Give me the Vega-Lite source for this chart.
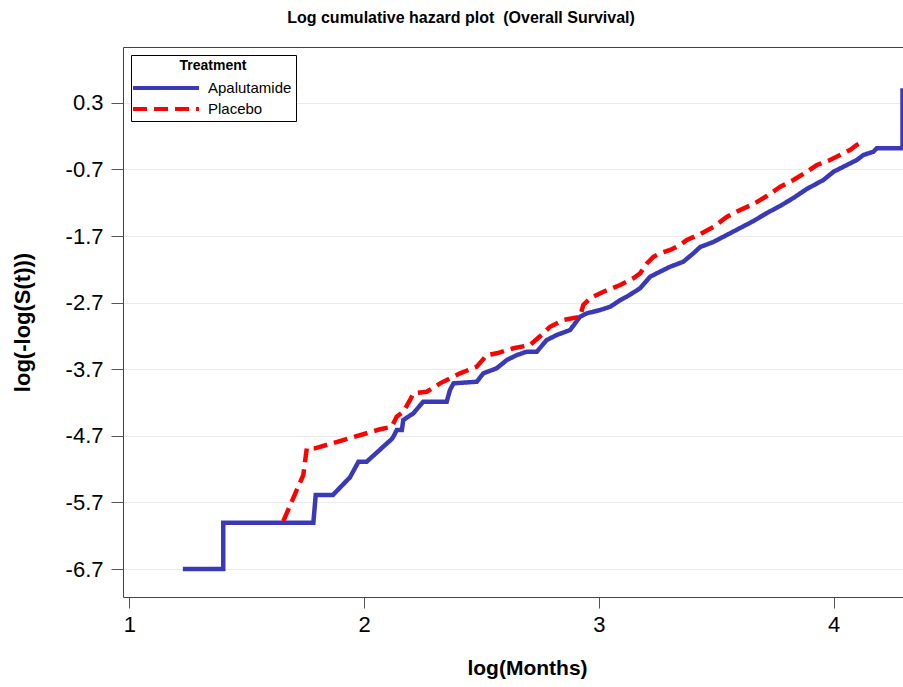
{
  "$schema": "https://vega.github.io/schema/vega-lite/v6.json",
  "autosize": {"type": "none"},
  "padding": {"left": 123, "top": 47, "right": 0, "bottom": 90},
  "width": 780,
  "height": 550,
  "background": "white",
  "title": {
    "text": "Log cumulative hazard plot \u00a0(Overall Survival)",
    "font": "Liberation Sans",
    "fontSize": 16,
    "fontWeight": "bold",
    "color": "#000000",
    "anchor": "middle",
    "dx": -52,
    "offset": 21
  },
  "config": {
    "view": {"stroke": null},
    "font": "Liberation Sans"
  },
  "data": {
    "values": [
      {"Treatment": "Apalutamide", "i": 1, "x": 1.228, "y": -6.70},
      {"Treatment": "Apalutamide", "i": 2, "x": 1.400, "y": -6.70},
      {"Treatment": "Apalutamide", "i": 3, "x": 1.400, "y": -6.005},
      {"Treatment": "Apalutamide", "i": 4, "x": 1.784, "y": -6.005},
      {"Treatment": "Apalutamide", "i": 5, "x": 1.794, "y": -5.589},
      {"Treatment": "Apalutamide", "i": 6, "x": 1.867, "y": -5.589},
      {"Treatment": "Apalutamide", "i": 7, "x": 1.940, "y": -5.323},
      {"Treatment": "Apalutamide", "i": 8, "x": 1.976, "y": -5.089},
      {"Treatment": "Apalutamide", "i": 9, "x": 2.011, "y": -5.089},
      {"Treatment": "Apalutamide", "i": 10, "x": 2.118, "y": -4.748},
      {"Treatment": "Apalutamide", "i": 11, "x": 2.125, "y": -4.713},
      {"Treatment": "Apalutamide", "i": 12, "x": 2.139, "y": -4.613},
      {"Treatment": "Apalutamide", "i": 13, "x": 2.161, "y": -4.613},
      {"Treatment": "Apalutamide", "i": 14, "x": 2.167, "y": -4.463},
      {"Treatment": "Apalutamide", "i": 15, "x": 2.210, "y": -4.362},
      {"Treatment": "Apalutamide", "i": 16, "x": 2.252, "y": -4.188},
      {"Treatment": "Apalutamide", "i": 17, "x": 2.352, "y": -4.188},
      {"Treatment": "Apalutamide", "i": 18, "x": 2.366, "y": -4.012},
      {"Treatment": "Apalutamide", "i": 19, "x": 2.381, "y": -3.912},
      {"Treatment": "Apalutamide", "i": 20, "x": 2.480, "y": -3.888},
      {"Treatment": "Apalutamide", "i": 21, "x": 2.508, "y": -3.762},
      {"Treatment": "Apalutamide", "i": 22, "x": 2.565, "y": -3.686},
      {"Treatment": "Apalutamide", "i": 23, "x": 2.608, "y": -3.562},
      {"Treatment": "Apalutamide", "i": 24, "x": 2.651, "y": -3.487},
      {"Treatment": "Apalutamide", "i": 25, "x": 2.693, "y": -3.437},
      {"Treatment": "Apalutamide", "i": 26, "x": 2.736, "y": -3.437},
      {"Treatment": "Apalutamide", "i": 27, "x": 2.778, "y": -3.262},
      {"Treatment": "Apalutamide", "i": 28, "x": 2.821, "y": -3.186},
      {"Treatment": "Apalutamide", "i": 29, "x": 2.878, "y": -3.111},
      {"Treatment": "Apalutamide", "i": 30, "x": 2.920, "y": -2.912},
      {"Treatment": "Apalutamide", "i": 31, "x": 2.949, "y": -2.861},
      {"Treatment": "Apalutamide", "i": 32, "x": 3.006, "y": -2.811},
      {"Treatment": "Apalutamide", "i": 33, "x": 3.049, "y": -2.761},
      {"Treatment": "Apalutamide", "i": 34, "x": 3.092, "y": -2.661},
      {"Treatment": "Apalutamide", "i": 35, "x": 3.119, "y": -2.611},
      {"Treatment": "Apalutamide", "i": 36, "x": 3.176, "y": -2.485},
      {"Treatment": "Apalutamide", "i": 37, "x": 3.219, "y": -2.311},
      {"Treatment": "Apalutamide", "i": 38, "x": 3.247, "y": -2.260},
      {"Treatment": "Apalutamide", "i": 39, "x": 3.304, "y": -2.161},
      {"Treatment": "Apalutamide", "i": 40, "x": 3.360, "y": -2.086},
      {"Treatment": "Apalutamide", "i": 41, "x": 3.403, "y": -1.960},
      {"Treatment": "Apalutamide", "i": 42, "x": 3.432, "y": -1.865},
      {"Treatment": "Apalutamide", "i": 43, "x": 3.488, "y": -1.790},
      {"Treatment": "Apalutamide", "i": 44, "x": 3.545, "y": -1.685},
      {"Treatment": "Apalutamide", "i": 45, "x": 3.602, "y": -1.580},
      {"Treatment": "Apalutamide", "i": 46, "x": 3.659, "y": -1.475},
      {"Treatment": "Apalutamide", "i": 47, "x": 3.716, "y": -1.355},
      {"Treatment": "Apalutamide", "i": 48, "x": 3.772, "y": -1.250},
      {"Treatment": "Apalutamide", "i": 49, "x": 3.829, "y": -1.129},
      {"Treatment": "Apalutamide", "i": 50, "x": 3.886, "y": -0.994},
      {"Treatment": "Apalutamide", "i": 51, "x": 3.957, "y": -0.859},
      {"Treatment": "Apalutamide", "i": 52, "x": 4.000, "y": -0.735},
      {"Treatment": "Apalutamide", "i": 53, "x": 4.057, "y": -0.634},
      {"Treatment": "Apalutamide", "i": 54, "x": 4.099, "y": -0.559},
      {"Treatment": "Apalutamide", "i": 55, "x": 4.127, "y": -0.484},
      {"Treatment": "Apalutamide", "i": 56, "x": 4.170, "y": -0.434},
      {"Treatment": "Apalutamide", "i": 57, "x": 4.184, "y": -0.383},
      {"Treatment": "Apalutamide", "i": 58, "x": 4.294, "y": -0.383},
      {"Treatment": "Apalutamide", "i": 59, "x": 4.294, "y": 0.52},
      {"Treatment": "Placebo", "i": 1, "x": 1.656, "y": -5.98},
      {"Treatment": "Placebo", "i": 2, "x": 1.741, "y": -5.289},
      {"Treatment": "Placebo", "i": 3, "x": 1.756, "y": -4.888},
      {"Treatment": "Placebo", "i": 4, "x": 1.791, "y": -4.888},
      {"Treatment": "Placebo", "i": 5, "x": 2.068, "y": -4.602},
      {"Treatment": "Placebo", "i": 6, "x": 2.118, "y": -4.563},
      {"Treatment": "Placebo", "i": 7, "x": 2.139, "y": -4.413},
      {"Treatment": "Placebo", "i": 8, "x": 2.167, "y": -4.338},
      {"Treatment": "Placebo", "i": 9, "x": 2.196, "y": -4.162},
      {"Treatment": "Placebo", "i": 10, "x": 2.210, "y": -4.062},
      {"Treatment": "Placebo", "i": 11, "x": 2.267, "y": -4.038},
      {"Treatment": "Placebo", "i": 12, "x": 2.324, "y": -3.912},
      {"Treatment": "Placebo", "i": 13, "x": 2.409, "y": -3.762},
      {"Treatment": "Placebo", "i": 14, "x": 2.480, "y": -3.662},
      {"Treatment": "Placebo", "i": 15, "x": 2.523, "y": -3.487},
      {"Treatment": "Placebo", "i": 16, "x": 2.565, "y": -3.461},
      {"Treatment": "Placebo", "i": 17, "x": 2.636, "y": -3.386},
      {"Treatment": "Placebo", "i": 18, "x": 2.707, "y": -3.337},
      {"Treatment": "Placebo", "i": 19, "x": 2.764, "y": -3.161},
      {"Treatment": "Placebo", "i": 20, "x": 2.792, "y": -3.062},
      {"Treatment": "Placebo", "i": 21, "x": 2.849, "y": -2.961},
      {"Treatment": "Placebo", "i": 22, "x": 2.920, "y": -2.912},
      {"Treatment": "Placebo", "i": 23, "x": 2.934, "y": -2.736},
      {"Treatment": "Placebo", "i": 24, "x": 2.963, "y": -2.635},
      {"Treatment": "Placebo", "i": 25, "x": 3.020, "y": -2.536},
      {"Treatment": "Placebo", "i": 26, "x": 3.091, "y": -2.436},
      {"Treatment": "Placebo", "i": 27, "x": 3.147, "y": -2.335},
      {"Treatment": "Placebo", "i": 28, "x": 3.176, "y": -2.260},
      {"Treatment": "Placebo", "i": 29, "x": 3.205, "y": -2.110},
      {"Treatment": "Placebo", "i": 30, "x": 3.233, "y": -2.011},
      {"Treatment": "Placebo", "i": 31, "x": 3.261, "y": -1.960},
      {"Treatment": "Placebo", "i": 32, "x": 3.304, "y": -1.910},
      {"Treatment": "Placebo", "i": 33, "x": 3.346, "y": -1.835},
      {"Treatment": "Placebo", "i": 34, "x": 3.375, "y": -1.760},
      {"Treatment": "Placebo", "i": 35, "x": 3.432, "y": -1.670},
      {"Treatment": "Placebo", "i": 36, "x": 3.488, "y": -1.565},
      {"Treatment": "Placebo", "i": 37, "x": 3.545, "y": -1.415},
      {"Treatment": "Placebo", "i": 38, "x": 3.602, "y": -1.310},
      {"Treatment": "Placebo", "i": 39, "x": 3.659, "y": -1.220},
      {"Treatment": "Placebo", "i": 40, "x": 3.716, "y": -1.099},
      {"Treatment": "Placebo", "i": 41, "x": 3.772, "y": -0.964},
      {"Treatment": "Placebo", "i": 42, "x": 3.829, "y": -0.859},
      {"Treatment": "Placebo", "i": 43, "x": 3.886, "y": -0.735},
      {"Treatment": "Placebo", "i": 44, "x": 3.929, "y": -0.634},
      {"Treatment": "Placebo", "i": 45, "x": 3.985, "y": -0.559},
      {"Treatment": "Placebo", "i": 46, "x": 4.028, "y": -0.484},
      {"Treatment": "Placebo", "i": 47, "x": 4.070, "y": -0.409},
      {"Treatment": "Placebo", "i": 48, "x": 4.099, "y": -0.334},
      {"Treatment": "Placebo", "i": 49, "x": 4.127, "y": -0.284}
    ]
  },
  "layer": [
    {
      "mark": {"type": "line", "strokeWidth": 4.5, "strokeJoin": "miter", "strokeCap": "butt"},
      "encoding": {
        "x": {
          "field": "x", "type": "quantitative",
          "scale": {"domain": [0.973, 4.296], "nice": false, "zero": false},
          "axis": {
            "values": [1, 2, 3, 4],
            "labelExpr": "toString(datum.value)",
            "title": "log(Months)",
            "titleFont": "Liberation Sans",
            "titleFontSize": 21,
            "titleFontWeight": "bold",
            "titleColor": "#000000",
            "titleX": 404,
            "titleY": 71,
            "titleBaseline": "middle",
            "titleAlign": "center",
            "labelFont": "Liberation Sans",
            "labelFontSize": 22,
            "labelColor": "#000000",
            "labelPadding": 6,
            "tickSize": 11,
            "tickColor": "#555555",
            "tickWidth": 1,
            "domain": true,
            "domainColor": "#444444",
            "domainWidth": 1,
            "grid": false
          }
        },
        "y": {
          "field": "y", "type": "quantitative",
          "scale": {"domain": [-7.12, 1.138], "nice": false, "zero": false},
          "axis": {
            "values": [0.3, -0.7, -1.7, -2.7, -3.7, -4.7, -5.7, -6.7],
            "labelExpr": "toString(datum.value)",
            "title": "log(-log(S(t)))",
            "titleFont": "Liberation Sans",
            "titleFontSize": 22,
            "titleFontWeight": "bold",
            "titleColor": "#000000",
            "titleX": -101,
            "titleY": 275,
            "titleBaseline": "middle",
            "titleAlign": "center",
            "labelFont": "Liberation Sans",
            "labelFontSize": 22,
            "labelColor": "#000000",
            "labelPadding": 8,
            "tickSize": 12,
            "tickColor": "#555555",
            "tickWidth": 1,
            "domain": true,
            "domainColor": "#444444",
            "domainWidth": 1,
            "grid": true,
            "gridColor": "#ebebeb",
            "gridWidth": 1
          }
        },
        "order": {"field": "i", "type": "quantitative"},
        "color": {
          "field": "Treatment", "type": "nominal",
          "scale": {"domain": ["Apalutamide", "Placebo"], "range": ["#3a3ab8", "#ff0000"]},
          "legend": {
            "orient": "top-left",
            "offset": 8,
            "title": "Treatment",
            "titleFont": "Liberation Sans",
            "titleFontSize": 14,
            "titleFontWeight": "bold",
            "titleColor": "#000000",
            "titleAnchor": "middle",
            "titlePadding": 2,
            "labelFont": "Liberation Sans",
            "labelFontSize": 15,
            "labelColor": "#000000",
            "labelOffset": 29,
            "symbolType": "M -3 0 L 3 0",
            "symbolSize": 484,
            "symbolOffset": 18,
            "symbolStrokeWidth": 4,
            "rowPadding": -2,
            "padding": 4,
            "strokeColor": "#000000",
            "fillColor": "#ffffff"
          }
        },
        "strokeDash": {
          "field": "Treatment", "type": "nominal",
          "scale": {"domain": ["Apalutamide", "Placebo"], "range": [[1, 0], [14, 7]]},
          "legend": {
            "orient": "top-left",
            "offset": 8,
            "title": "Treatment",
            "symbolType": "M -3 0 L 3 0",
            "symbolSize": 484,
            "symbolOffset": 18,
            "symbolStrokeWidth": 4
          }
        }
      }
    },
    {
      "mark": {"type": "rule", "opacity": 0},
      "encoding": {
        "x": {
          "field": "x", "type": "quantitative",
          "axis": {"orient": "top", "labels": false, "ticks": false, "grid": false, "title": null, "domain": true, "domainColor": "#444444", "domainWidth": 1}
        }
      }
    }
  ],
  "resolve": {"axis": {"x": "independent"}}
}
